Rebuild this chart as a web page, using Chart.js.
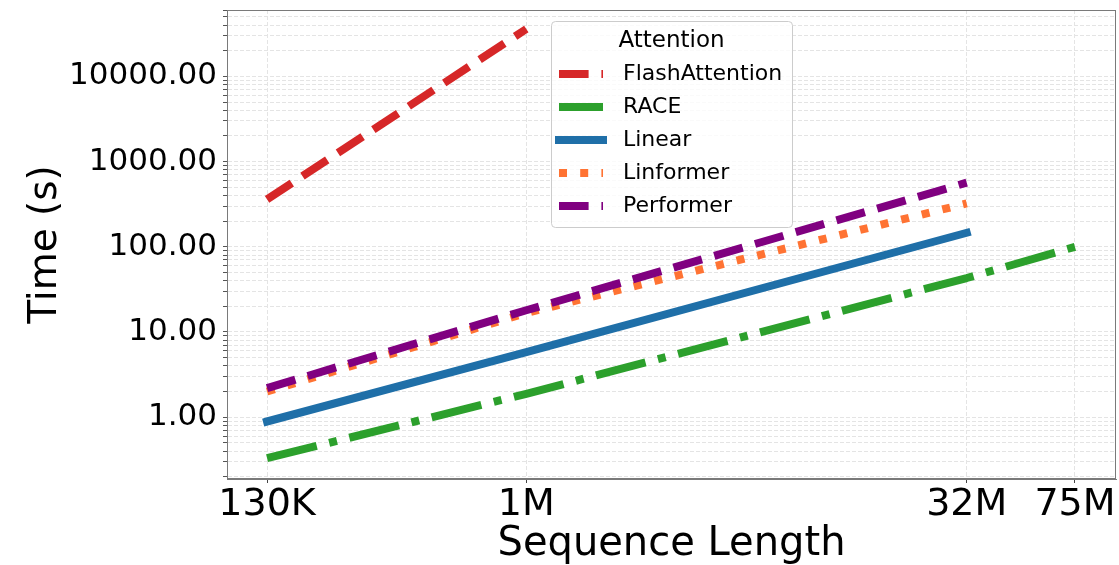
<!DOCTYPE html>
<html>
<head>
<meta charset="utf-8">
<script src="https://cdn.jsdelivr.net/npm/chart.js@4.4.1/dist/chart.umd.min.js"></script>
<style>
  body { margin: 0; background: #fff; }
  canvas { display: block; }
</style>
</head>
<body>
<canvas id="timeChart" width="1119" height="565"></canvas>
<script>
// sequence lengths on the x axis and their tick labels
const seqLengths = [130000, 1000000, 32000000, 75000000];
const seqLabels = ['130K', '1M', '32M', '75M'];

// measured run time (s) per method, one value per sequence length above
const flashTimes = [360, 36000];
const raceTimes = [0.33, 1.88, 43, 100];
const linearTimes = [0.89, 5.8, 146];
const linformerTimes = [2.0, 16.7, 323];
const performerTimes = [2.19, 18, 566];

const yMajorTicks = [1, 10, 100, 1000, 10000];

const FONT = "'DejaVu Sans', 'Liberation Sans', sans-serif";
const LW = 8;
const GRID = '#e4e4e4';

function toPoints(times) {
    return times.map((t, i) => ({ x: seqLengths[i], y: t }));
}

function series(label, times, color, dash, cap, order) {
    return {
        label: label,
        data: toPoints(times),
        borderColor: color,
        backgroundColor: color,
        borderWidth: LW,
        borderDash: dash,
        borderCapStyle: cap,
        borderJoinStyle: 'round',
        pointRadius: 0,
        fill: false,
        tension: 0,
        order: order
    };
}

const datasets = [
    series('FlashAttention', flashTimes, '#d62728', [3.7 * LW, 1.6 * LW], 'butt', 5),
    series('RACE', raceTimes, '#2ca02c', [6.4 * LW, 1.6 * LW, 1 * LW, 1.6 * LW], 'butt', 4),
    series('Linear', linearTimes, '#1f6fa8', [], 'square', 3),
    series('Linformer', linformerTimes, '#ff7333', [1 * LW, 1.65 * LW], 'butt', 2),
    series('Performer', performerTimes, '#800080', [3.7 * LW, 1.6 * LW], 'butt', 1)
];

// frame round the plot and the legend box inside it
const framePlugin = {
    id: 'frame',
    afterDraw(chart) {
        const ctx = chart.ctx;
        const a = chart.chartArea;
        ctx.save();
        ctx.strokeStyle = '#7a7a7a';
        ctx.lineWidth = 1;
        ctx.strokeRect(a.left + 0.5, a.top + 0.5, a.right - a.left - 1, a.bottom - a.top - 1);

        // legend
        const bx = 551, by = 21, bw = 241, bh = 206;
        ctx.beginPath();
        ctx.roundRect(bx + 0.5, by + 0.5, bw, bh, 4);
        ctx.fillStyle = 'rgba(255,255,255,0.8)';
        ctx.fill();
        ctx.strokeStyle = '#cccccc';
        ctx.stroke();

        ctx.fillStyle = '#000';
        ctx.textBaseline = 'middle';
        ctx.textAlign = 'center';
        ctx.font = '23px ' + FONT;
        ctx.fillText('Attention', bx + bw / 2, 41);

        const rows = [74, 107, 140, 173, 206];
        ctx.textAlign = 'left';
        ctx.font = '22px ' + FONT;
        chart.data.datasets.forEach((ds, i) => {
            const y = rows[i];
            ctx.save();
            ctx.strokeStyle = ds.borderColor;
            ctx.lineWidth = ds.borderWidth;
            ctx.lineCap = ds.borderCapStyle;
            ctx.setLineDash(ds.borderDash);
            ctx.beginPath();
            ctx.moveTo(559, y);
            ctx.lineTo(603, y);
            ctx.stroke();
            ctx.restore();
            ctx.fillText(ds.label, 623, y);
        });
        ctx.restore();
    }
};

const ctx = document.getElementById('timeChart').getContext('2d');
const timeChart = new Chart(ctx, {
    type: 'line',
    data: { datasets: datasets },
    options: {
        responsive: false,
        animation: false,
        devicePixelRatio: 1,
        layout: { padding: { left: 0, top: 10, right: 3, bottom: 0 } },
        plugins: {
            legend: { display: false },
            tooltip: { enabled: false }
        },
        scales: {
            x: {
                type: 'logarithmic',
                min: 94860,
                max: 103600000,
                afterBuildTicks: function (scale) {
                    scale.ticks = seqLengths.map(v => ({ value: v, major: true }));
                },
                afterFit: function (scale) {
                    scale.height = 86;
                    scale.paddingLeft = 0;
                    scale.paddingRight = 0;
                },
                ticks: {
                    autoSkip: false,
                    maxRotation: 0,
                    padding: 3,
                    color: '#000',
                    font: { family: FONT, size: 38, lineHeight: 1 },
                    callback: function (value) {
                        const i = seqLengths.indexOf(value);
                        return i >= 0 ? seqLabels[i] : '';
                    }
                },
                grid: {
                    color: GRID,
                    tickColor: '#444',
                    tickLength: 4,
                    tickBorderDash: []
                },
                border: { color: '#7a7a7a', dash: [4, 2] },
                title: {
                    display: true,
                    text: 'Sequence Length',
                    color: '#000',
                    font: { family: FONT, size: 40, lineHeight: 1 },
                    padding: { top: 0, bottom: 0 }
                }
            },
            y: {
                type: 'logarithmic',
                min: 0.188,
                max: 60200,
                afterBuildTicks: function (scale) {
                    const ticks = [];
                    for (let d = -1; d <= 4; d++) {
                        for (let m = 1; m <= 9; m++) {
                            const v = m * Math.pow(10, d);
                            if (v >= scale.min && v <= scale.max) {
                                ticks.push({ value: v, major: m === 1 });
                            }
                        }
                    }
                    scale.ticks = ticks;
                },
                afterFit: function (scale) {
                    scale.width = 227;
                    scale.paddingTop = 0;
                    scale.paddingBottom = 0;
                },
                ticks: {
                    autoSkip: false,
                    padding: 6,
                    color: '#000',
                    font: { family: FONT, size: 31 },
                    callback: function (value) {
                        for (const t of yMajorTicks) {
                            if (Math.abs(value - t) / t < 1e-6) return t.toFixed(2);
                        }
                        return '';
                    }
                },
                grid: {
                    color: GRID,
                    tickColor: '#555',
                    tickLength: 4,
                    tickBorderDash: []
                },
                border: { color: '#7a7a7a', dash: [4, 2] },
                title: {
                    display: true,
                    text: 'Time (s)',
                    color: '#000',
                    font: { family: FONT, size: 39, lineHeight: 1 },
                    padding: { top: 26, bottom: 0 }
                }
            }
        }
    },
    plugins: [framePlugin]
});
</script>
</body>
</html>
